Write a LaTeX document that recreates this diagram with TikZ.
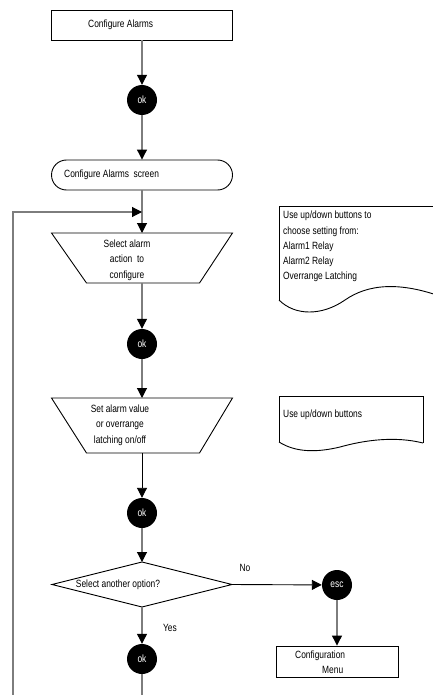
\documentclass[tikz,border=0pt]{standalone}
\usepackage{fontspec}
\setmainfont[FakeStretch=0.8]{Liberation Sans}
\usetikzlibrary{arrows.meta}
\definecolor{lgray}{RGB}{125,125,125}
\begin{document}
\begin{tikzpicture}[x=1pt,y=-1pt,
  font=\fontsize{10.5}{15.5}\selectfont,
  outl/.style={draw=black, line width=0.9pt},
  box/.style={outl, minimum width=181pt, minimum height=30pt, inner sep=0},
  ghost/.style={inner sep=0, outer sep=0},
  txt/.style={inner sep=0},
  okc/.style={circle, fill=black, text=white, minimum size=30pt, inner sep=0},
  conn/.style={draw=lgray, line width=1.1pt, -{Triangle[width=10pt,length=10pt,color=black]}},
  connb/.style={draw=black, line width=0.9pt, -{Triangle[width=10pt,length=10pt,color=black]}}]
\useasboundingbox (0,0) rectangle (433,695);

% top box
\node[box] (cfg) at (142,25) {};
\node[txt, anchor=west] (cfgt) at (88,25) {Configure Alarms};
\node[okc] (ok1) at (142,100) {ok};
\node[box, rounded corners=15pt] (scr) at (142,175) {};
\node[txt, anchor=west] (scrt) at (64,175) {Configure Alarms\ \ screen};

\coordinate (join) at (142,212);
\coordinate (loopbot) at (13,710);

% trapezoid 1
\node[ghost, minimum width=181pt, minimum height=50pt] (t1) at (142,258) {};
\draw[outl] (t1.north west) -- (t1.north east) -- ([xshift=-33pt]t1.south east) -- ([xshift=35pt]t1.south west) -- cycle;
\node[txt, align=center] (t1t) at (127,260) {Select alarm\\action\ \ to\\configure};

\node[okc] (ok2) at (142,344) {ok};

% trapezoid 2
\node[ghost, minimum width=181pt, minimum height=55pt] (t2) at (142,425.5) {};
\draw[outl] (t2.north west) -- (t2.north east) -- ([xshift=-33pt]t2.south east) -- ([xshift=35pt]t2.south west) -- cycle;
\node[txt, align=center] (t2t) at (120,425) {Set alarm value\\or overrange\\latching on/off};

\node[okc] (ok3) at (142,513) {ok};

% diamond
\node[ghost, minimum width=180pt, minimum height=45pt] (dia) at (142,584.5) {};
\draw[outl] (dia.north) -- (dia.east) -- (dia.south) -- (dia.west) -- cycle;
\node[txt] (diat) at (118,585) {Select another option?};

\node[okc] (esc) at (337,585) {esc};
\node[outl, minimum width=122pt, minimum height=31pt, inner sep=0] (menu) at (337,661.5) {};
\node[txt, anchor=west, align=left] (menut) at (295,662) {Configuration\\\hspace*{27pt}Menu};

\node[okc] (ok4) at (142,659) {ok};

\node[txt] (no) at (245,568) {No};
\node[txt] (yes) at (170,628) {Yes};

% notes
\draw[outl] (279,300) -- (279,206) -- (445,206);
\draw[outl] (279,300) .. controls (295,316) and (322,316) .. (345,300) .. controls (368,284) and (400,281) .. (445,298);
\node[txt, anchor=north west, align=left, font=\fontsize{10.5}{15.25}\selectfont] (n1t) at (283,211) {Use up/down buttons to\\choose setting from:\\Alarm1 Relay\\Alarm2 Relay\\Overrange Latching};

\draw[outl] (279,442) -- (279,396) -- (423,396) -- (423,443);
\draw[outl] (279,442) .. controls (295,452) and (315,453) .. (340,447) .. controls (365,440) and (395,436) .. (423,443);
\node[txt, anchor=west] (n2t) at (283,415) {Use up/down buttons};

% connectors
\draw[conn] (cfg) -- (ok1);
\draw[conn] (ok1) -- (scr);
\draw[conn] (scr) -- (t1.north);
\draw[conn] (t1.south) -- (ok2);
\draw[conn] (ok2) -- (t2.north);
\draw[connb] (t2.south) -- (ok3);
\draw[conn] (ok3) -- (dia.north);
\draw[connb] (dia.east) -- (esc);
\draw[conn] (esc) -- (menu);
\draw[conn] (dia.south) -- (ok4);
\draw[conn] (ok4.south) |- (loopbot) |- (join);
\end{tikzpicture}
\end{document}
